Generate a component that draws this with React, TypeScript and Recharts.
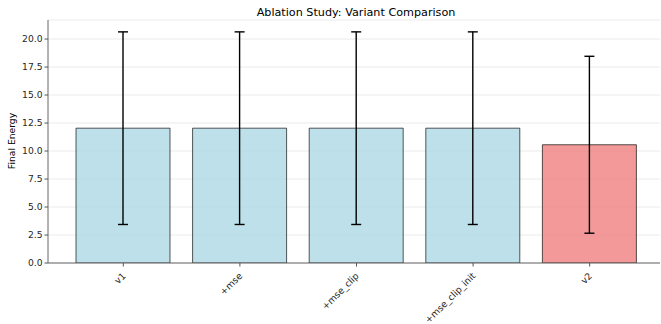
import React from 'react';
import { BarChart, Bar, XAxis, YAxis, CartesianGrid, ErrorBar, Cell } from 'recharts';

const categories = ['v1', '+mse', '+mse_clip', '+mse_clip_init', 'v2'];
const means = [12.04, 12.04, 12.04, 12.04, 10.56];
const errors = [8.6, 8.6, 8.6, 8.6, 7.9];
const colors = ['#ADD8E6', '#ADD8E6', '#ADD8E6', '#ADD8E6', '#F08080'];
const yTicks = [0, 2.5, 5, 7.5, 10, 12.5, 15, 17.5, 20];

const data = categories.map((name, i) => ({ name, value: means[i], err: errors[i] }));

const FONT = 'DejaVu Sans, sans-serif';
const SMALL = 9.2;

const XTick = (props: any) => {
  const { x, y, payload } = props;
  const ax = x + 3;
  const ay = y + 8;
  return (
    <text
      x={ax}
      y={ay}
      textAnchor="end"
      fontSize={SMALL}
      fontFamily={FONT}
      fill="#262626"
      transform={`rotate(-45, ${ax}, ${ay})`}
    >
      {payload.value}
    </text>
  );
};

export default function App() {
  return (
    <div style={{ position: 'absolute', left: 0, top: 0, width: 661, height: 324, background: '#fff' }}>
      <BarChart
        width={661}
        height={324}
        data={data}
        margin={{ top: 20, right: 1, bottom: 0, left: 0 }}
        barSize={94}
      >
        <CartesianGrid vertical={false} stroke="#e6e6e6" strokeWidth={0.8} />
        <XAxis
          dataKey="name"
          height={61}
          interval={0}
          tick={<XTick />}
          tickLine={{ stroke: '#555' }}
          tickSize={3.5}
          axisLine={{ stroke: '#666', strokeWidth: 1 }}
          padding={{ left: 17, right: 12 }}
        />
        <XAxis xAxisId="top" orientation="top" height={0} tick={false} tickLine={false} axisLine={{ stroke: '#666', strokeWidth: 1 }} />
        <YAxis
          width={48}
          domain={[0, 21.7]}
          ticks={yTicks}
          allowDataOverflow
          tickFormatter={(v: number) => v.toFixed(1)}
          tick={{ fontSize: SMALL, fontFamily: FONT, fill: '#262626' }}
          tickLine={{ stroke: '#555' }}
          tickSize={3.5}
          axisLine={{ stroke: '#666', strokeWidth: 1 }}
        />
        <YAxis yAxisId="right" orientation="right" width={0} tick={false} tickLine={false} axisLine={{ stroke: '#666', strokeWidth: 1 }} />
        <Bar dataKey="value" isAnimationActive={false} stroke="#000" strokeOpacity={0.65} strokeWidth={1} fillOpacity={0.8}>
          {data.map((d, i) => (
            <Cell key={d.name} fill={colors[i]} />
          ))}
          <ErrorBar dataKey="err" direction="y" width={5} stroke="#000" strokeWidth={1.4} />
        </Bar>
      </BarChart>
      <svg width={661} height={324} style={{ position: 'absolute', left: 0, top: 0, pointerEvents: 'none' }}>
        <text x={356} y={16} textAnchor="middle" fontSize={11.2} fontFamily={FONT} fill="#000">
          Ablation Study: Variant Comparison
        </text>
        <text
          x={15}
          y={141}
          textAnchor="middle"
          fontSize={SMALL}
          fontFamily={FONT}
          fill="#000"
          transform="rotate(-90, 15, 141)"
        >
          Final Energy
        </text>
      </svg>
    </div>
  );
}
